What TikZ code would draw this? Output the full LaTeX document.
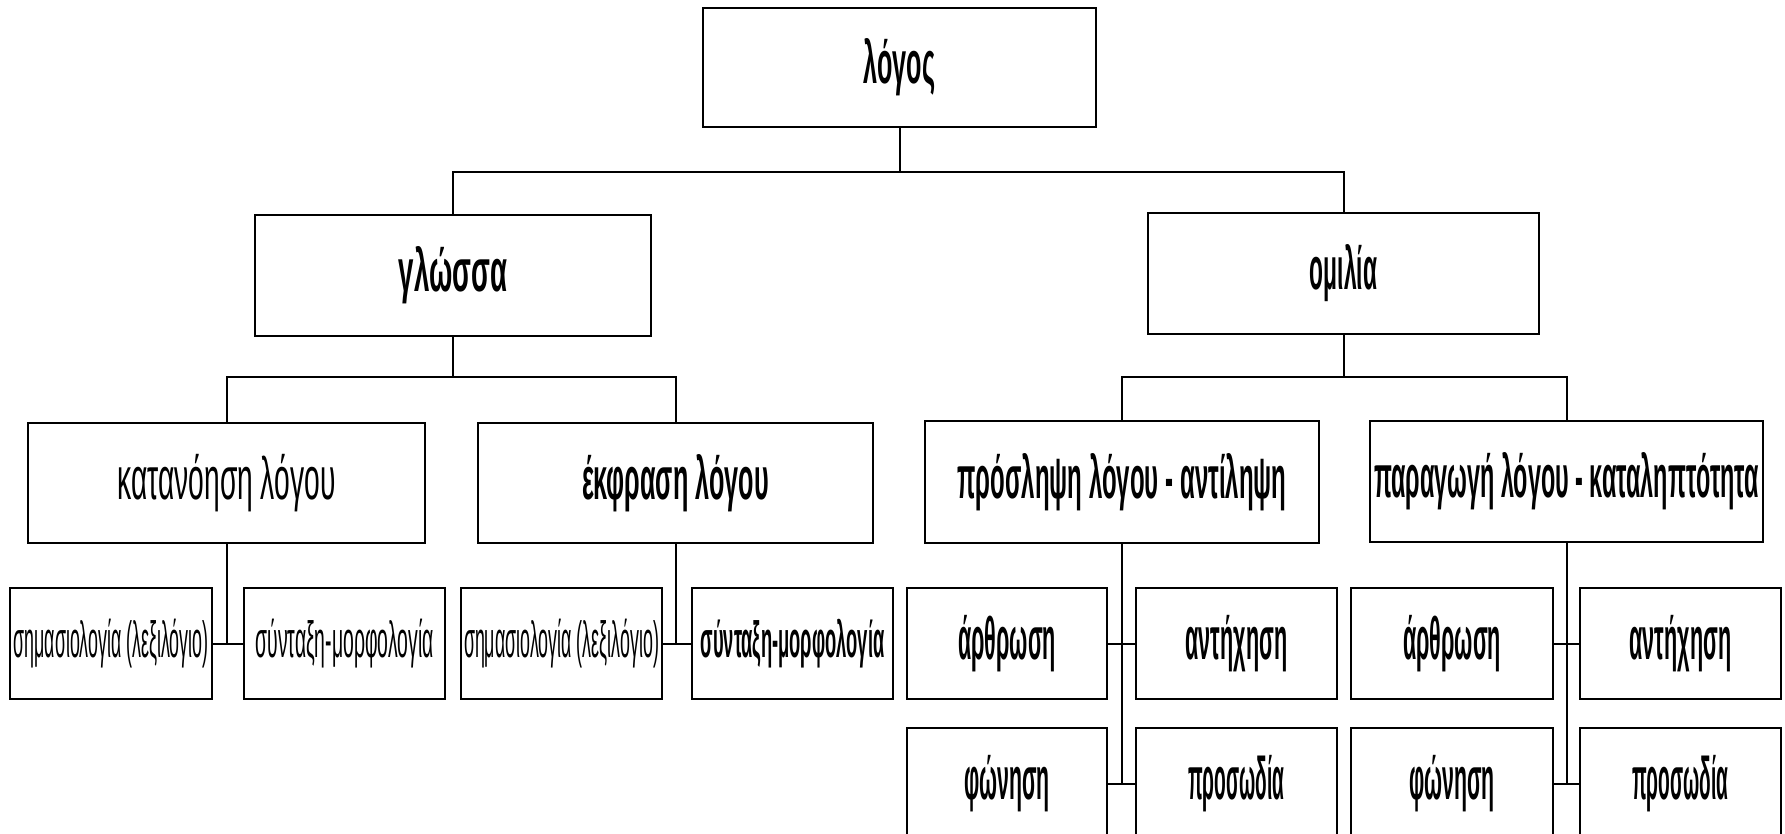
\documentclass[tikz,border=0pt]{standalone}
\usepackage{fontspec}
\setmainfont{Liberation Sans}
\begin{document}
\begin{tikzpicture}[x=0.5pt,y=-0.5pt,
  box/.style={draw, line width=1.2pt, rectangle, inner sep=0pt, align=center},
  rg/.style n args={2}{font=\fontsize{#1}{#1}\selectfont\addfontfeatures{FakeStretch=#2}},
  bd/.style n args={2}{font=\fontsize{#1}{#1}\selectfont\bfseries\addfontfeatures{FakeStretch=#2}},
  conn/.style={line width=1pt}]
\clip (0,0) rectangle (1785,834);
\fill[white] (0,0) rectangle (1785,834);
% level 1
\node[box,bd={30}{0.42},minimum width=196.5pt,minimum height=59.5pt] (logos) at (899.5,67.5) {λόγος};
% level 2
\node[box,bd={30}{0.46},minimum width=198pt,minimum height=60.5pt] (glossa) at (453,275.5) {γλώσσα};
\node[box,bd={30}{0.38},minimum width=195.5pt,minimum height=60.5pt] (omilia) at (1343.5,273.5) {ομιλία};
% level 3
\node[box,rg={30}{0.47},minimum width=198.5pt,minimum height=60pt] (katan) at (226.5,483) {κατανόηση λόγου};
\node[box,bd={30}{0.42},minimum width=197.5pt,minimum height=60pt] (ekfr) at (675.5,483) {έκφραση λόγου};
\node[box,bd={30}{0.40},minimum width=197pt,minimum height=61pt] (prosl) at (1122,482) {πρόσληψη λόγου - αντίληψη};
\node[box,bd={30}{0.39},minimum width=196.5pt,minimum height=60.5pt] (parag) at (1566.5,481.5) {παραγωγή λόγου - καταληπτότητα};
% level 4
\node[box,rg={25.5}{0.35},minimum width=101pt,minimum height=55.5pt] (sem1) at (111,643.5) {σημασιολογία (λεξιλόγιο)};
\node[box,rg={25.5}{0.38},minimum width=100.5pt,minimum height=55.5pt] (synt1) at (344.5,643.5) {σύνταξη-μορφολογία};
\node[box,rg={25.5}{0.35},minimum width=100.5pt,minimum height=55.5pt] (sem2) at (561.5,643.5) {σημασιολογία (λεξιλόγιο)};
\node[box,bd={25.5}{0.36},minimum width=100.5pt,minimum height=55.5pt] (synt2) at (792.5,643.5) {σύνταξη-μορφολογία};
\node[box,bd={30}{0.36},minimum width=100pt,minimum height=55.5pt] (arth1) at (1007,643.5) {άρθρωση};
\node[box,bd={30}{0.36},minimum width=100.5pt,minimum height=55.5pt] (ant1) at (1236.5,643.5) {αντήχηση};
\node[box,bd={30}{0.36},minimum width=101pt,minimum height=55.5pt] (arth2) at (1452,643.5) {άρθρωση};
\node[box,bd={30}{0.36},minimum width=100.5pt,minimum height=55.5pt] (ant2) at (1680.5,643.5) {αντήχηση};
% level 5
\node[box,bd={30}{0.355},minimum width=100pt,minimum height=55.5pt] (phon1) at (1007,783.5) {φώνηση};
\node[box,bd={30}{0.32},minimum width=100.5pt,minimum height=55.5pt] (pros1) at (1236.5,783.5) {προσωδία};
\node[box,bd={30}{0.355},minimum width=101pt,minimum height=55.5pt] (phon2) at (1452,783.5) {φώνηση};
\node[box,bd={30}{0.32},minimum width=100.5pt,minimum height=55.5pt] (pros2) at (1680.5,783.5) {προσωδία};
% connectors
\coordinate (b1) at (0,172);
\coordinate (b2) at (0,377);
\draw[conn] (logos.south) -- (logos.south |- b1);
\draw[conn] (glossa.north) -- (glossa.north |- b1) -- (omilia.north |- b1) -- (omilia.north);
\draw[conn] (glossa.south) -- (glossa.south |- b2);
\draw[conn] (katan.north) -- (katan.north |- b2) -- (ekfr.north |- b2) -- (ekfr.north);
\draw[conn] (omilia.south) -- (omilia.south |- b2);
\draw[conn] (prosl.north) -- (prosl.north |- b2) -- (parag.north |- b2) -- (parag.north);
\draw[conn] (sem1.east) -- (synt1.west);
\draw[conn] (katan.south) -- (katan.south |- sem1.east);
\draw[conn] (sem2.east) -- (synt2.west);
\draw[conn] (ekfr.south) -- (ekfr.south |- sem2.east);
\draw[conn] (arth1.east) -- (ant1.west);
\draw[conn] (phon1.east) -- (pros1.west);
\draw[conn] (prosl.south) -- (prosl.south |- phon1.east);
\draw[conn] (arth2.east) -- (ant2.west);
\draw[conn] (phon2.east) -- (pros2.west);
\draw[conn] (parag.south) -- (parag.south |- phon2.east);
\end{tikzpicture}
\end{document}
